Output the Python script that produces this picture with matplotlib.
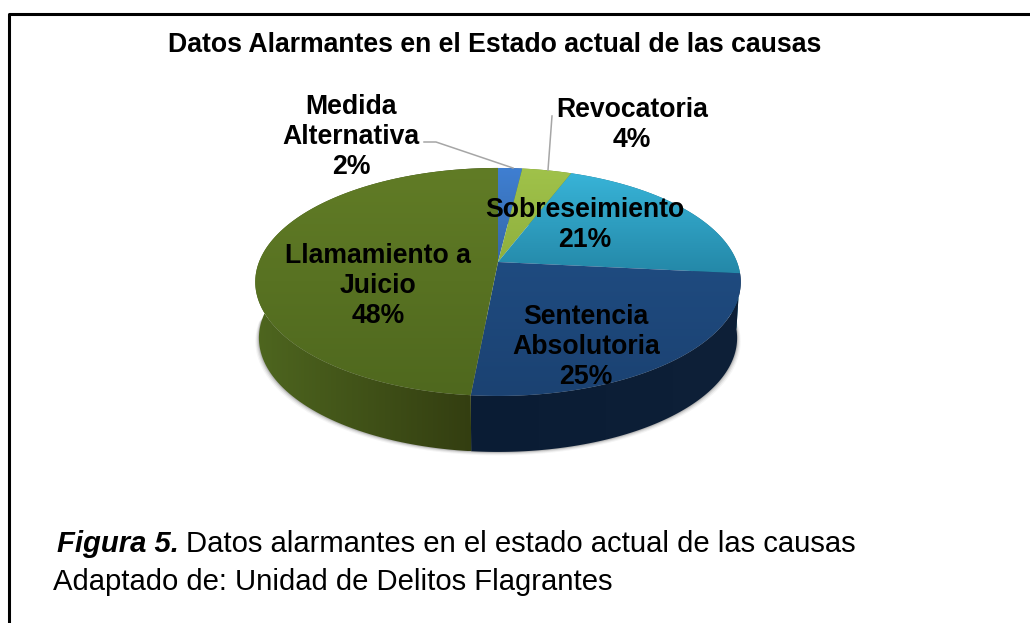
import numpy as np
import matplotlib
matplotlib.use('Agg')
import matplotlib.pyplot as plt
from matplotlib.patches import Polygon

plt.rcParams['font.family'] = ['Liberation Sans', 'DejaVu Sans']

categories = ['Medida\nAlternativa', 'Revocatoria', 'Sobreseimiento', 'Sentencia\nAbsolutoria', 'Llamamiento a\nJuicio']
shares = [1.9, 3.9, 20.8, 24.9, 48.5]  # labels round them
top_light = ['#3F7FD2', '#A0C24A', '#38B4D8', '#1F4B80', '#617C26']
top_dark = ['#3568A8', '#8FB03E', '#2488A8', '#1B4272', '#4F681E']
wall_left = ['#2A5490', '#6E8A30', '#1E7088', '#0A1C34', '#4E661F']
wall_right = ['#2A5490', '#6E8A30', '#1E7088', '#0E2038', '#30390F']
label_xy = [(351, 137), (632, 125), (585, 225), (586, 347), (378, 286)]
pct_text = ['2%', '4%', '21%', '25%', '48%']
title = 'Datos Alarmantes en el Estado actual de las causas'

# pixel coords, the disc is a tilted circle so needs a perspective factor
cx, cy = 498, 262
a, b, k = 239, 110.5, 0.175
depth = 56


def project(ang, squeeze=1.0, drop=0):
    u, v = np.sin(ang), np.cos(ang)
    s = 1 / (1 + k * v)
    return np.column_stack([cx + a * squeeze * u * s, cy + drop - b * v * s])


def hex_rgb(c):
    return np.array(matplotlib.colors.to_rgb(c))


fig = plt.figure(figsize=(10.30, 6.23), dpi=100)
ax = fig.add_axes([0, 0, 1, 1])

edges = np.cumsum([0] + shares) / sum(shares) * 2 * np.pi

# soft shadow under the wall
full = np.linspace(np.pi / 2, 3 * np.pi / 2, 200)
for grow, alpha in [(3.5, 0.06), (2.5, 0.10), (1.5, 0.15), (0.7, 0.2)]:
    ax.add_patch(Polygon(project(full, 0.985 + grow / 240, depth + grow), closed=True,
                         fc='#555555', ec='none', alpha=alpha, zorder=1))

# side walls, horizontal gradient
for i in range(len(shares)):
    t = np.linspace(edges[i], edges[i + 1], 120)
    outline = np.vstack([project(t), project(t[::-1], 0.985, depth)])
    poly = Polygon(outline, closed=True, fc='none', ec='none', transform=ax.transData)
    ax.add_patch(poly)
    x0, x1 = outline[:, 0].min(), outline[:, 0].max()
    mix = np.linspace(0, 1, 256)[None, :, None]
    img = hex_rgb(wall_left[i]) * (1 - mix) + hex_rgb(wall_right[i]) * mix
    im = ax.imshow(img, extent=(x0, x1, outline[:, 1].max(), outline[:, 1].min()),
                   aspect='auto', zorder=2)
    im.set_clip_path(poly)

# top of the pie, vertical gradient
for i in range(len(shares)):
    t = np.linspace(edges[i], edges[i + 1], 120)
    outline = np.vstack([[cx, cy], project(t)])
    poly = Polygon(outline, closed=True, fc='none', ec='none', transform=ax.transData)
    ax.add_patch(poly)
    mix = np.linspace(0, 1, 256)[:, None, None]
    img = hex_rgb(top_light[i]) * (1 - mix) + hex_rgb(top_dark[i]) * mix
    im = ax.imshow(img, extent=(outline[:, 0].min(), outline[:, 0].max(),
                                outline[:, 1].max(), outline[:, 1].min()),
                   aspect='auto', zorder=3)
    im.set_clip_path(poly)

# leader lines
ax.plot([424, 436, 513], [142, 142, 168], color='#A6A6A6', lw=1.1, zorder=4)
ax.plot([552, 548], [116, 170], color='#A6A6A6', lw=1.1, zorder=4)

for name, pct, (x, y) in zip(categories, pct_text, label_xy):
    ax.text(x, y, name + '\n' + pct, ha='center', va='center', fontsize=19.2,
            fontweight='bold', color='black', linespacing=1.2, zorder=5)

ax.text(495, 45, title, ha='center', va='center', fontsize=19.2, fontweight='bold')

# frame runs off the right and bottom of the picture
ax.plot([9, 9, 1040], [640, 14, 14], color='black', lw=2.2, zorder=6)

ax.text(57, 552, 'Figura 5.', ha='left', va='baseline', fontsize=21.1,
        fontweight='bold', style='italic')
ax.text(186, 552, 'Datos alarmantes en el estado actual de las causas', ha='left',
        va='baseline', fontsize=21.1)
ax.text(53, 590, 'Adaptado de: Unidad de Delitos Flagrantes', ha='left', va='baseline',
        fontsize=21.1)

ax.set_xlim(0, 1030)
ax.set_ylim(623, 0)
ax.axis('off')
fig.savefig('out.png', dpi=100, facecolor='white')
